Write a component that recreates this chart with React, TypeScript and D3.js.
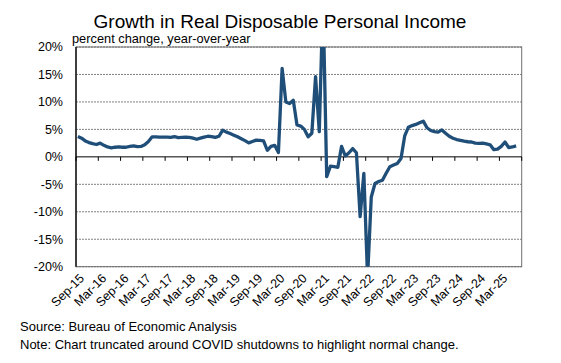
import * as d3 from "d3";

// monthly year-over-year % change in real disposable personal income, Sep-15 onward
const yoy = [
  3.7, 3.4, 2.9, 2.6, 2.4, 2.25, 2.5, 2.1, 1.8, 1.65, 1.75, 1.8,
  1.75, 1.75, 1.9, 2.0, 1.85, 1.9, 2.2, 2.8, 3.65, 3.65, 3.6, 3.6,
  3.6, 3.55, 3.7, 3.5, 3.55, 3.6, 3.55, 3.4, 3.2, 3.4, 3.6, 3.75,
  3.7, 3.55, 3.75, 4.85, 4.5, 4.25, 3.95, 3.65, 3.3, 2.95, 2.55, 2.8,
  3.05, 3.0, 2.9, 1.2, 1.9, 2.1, 0.8, 16.1, 10.0, 9.7, 10.3, 5.8,
  5.6, 5.0, 3.65, 4.3, 14.6, 4.6, 29.0, -3.6, -1.7, -1.8, -1.9, 1.9,
  0.15, 0.75, 1.5, 0.75, -10.9, -3.0, -22.0, -7.3, -4.85, -4.5, -4.25, -3.0,
  -1.8, -1.5, -1.2, -0.3, 3.8, 5.4, 5.7, 5.9, 6.2, 6.5, 5.3, 4.8,
  4.6, 4.5, 4.9, 4.3, 3.75, 3.4, 3.15, 3.0, 2.85, 2.75, 2.7, 2.5,
  2.45, 2.5, 2.35, 2.2, 1.3, 1.4, 1.9, 2.7, 1.7, 1.8, 2.0,
];

const tickLabels = [
  "Sep-15", "Mar-16", "Sep-16", "Mar-17", "Sep-17", "Mar-18", "Sep-18",
  "Mar-19", "Sep-19", "Mar-20", "Sep-20", "Mar-21", "Sep-21", "Mar-22",
  "Sep-22", "Mar-23", "Sep-23", "Mar-24", "Sep-24", "Mar-25",
];

const yTicks = [20, 15, 10, 5, 0, -5, -10, -15, -20];

const nMonths = 120; // slots on the category axis
const font = "'Liberation Sans', Arial, sans-serif";

export default function App() {
  const left = 76,
    right = 521.7,
    top = 47,
    bottom = 266.7;

  const x = d3.scaleLinear().domain([0, nMonths]).range([left, right]);
  const y = d3.scaleLinear().domain([-20, 20]).range([bottom, top]);

  const line = d3
    .line<number>()
    .x((d, i) => x(i + 0.5))
    .y((d) => y(d));

  const tickIdx = d3.range(0, nMonths + 1, 6);

  return (
    <svg
      width={561}
      height={363}
      style={{ position: "absolute", left: 0, top: 0, background: "#fff" }}
      fontFamily={font}
    >
      <defs>
        <clipPath id="plot">
          <rect x={left} y={top} width={right - left} height={bottom - top} />
        </clipPath>
      </defs>

      <text x={280} y={28} textAnchor="middle" fontSize={19} fill="#000">
        Growth in Real Disposable Personal Income
      </text>
      <text x={72} y={43} fontSize={12.8} fill="#000">
        percent change, year-over-year
      </text>

      {/* gridlines */}
      {yTicks
        .filter((t) => t !== 0)
        .map((t) => (
          <line
            key={t}
            x1={left}
            x2={right}
            y1={y(t)}
            y2={y(t)}
            stroke="#808080"
            strokeWidth={1}
            strokeDasharray="2,1"
          />
        ))}

      {yTicks.map((t) => (
        <text
          key={"l" + t}
          x={63}
          y={y(t)}
          dy="0.35em"
          textAnchor="end"
          fontSize={12.5}
          fill="#000"
        >
          {t + "%"}
        </text>
      ))}

      <rect
        x={left}
        y={top}
        width={right - left}
        height={bottom - top}
        fill="none"
        stroke="#6f6f6f"
        strokeWidth={1}
      />

      {/* zero axis with ticks */}
      <line x1={left} x2={right} y1={y(0)} y2={y(0)} stroke="#000" strokeWidth={1} />
      {tickIdx.map((k) => (
        <line key={"t" + k} x1={x(k)} x2={x(k)} y1={y(0)} y2={y(0) + 4} stroke="#000" strokeWidth={1} />
      ))}
      <line x1={left} x2={left} y1={top} y2={bottom} stroke="#000" strokeWidth={1.3} />

      <path
        d={line(yoy) ?? ""}
        fill="none"
        stroke="#1F4E79"
        strokeWidth={3.3}
        strokeLinejoin="round"
        clipPath="url(#plot)"
      />

      {tickLabels.map((lab, k) => (
        <text
          key={lab}
          transform={`translate(${x(k * 6 + 0.5) + 7},279) rotate(-45)`}
          textAnchor="end"
          fontSize={12.5}
          fill="#000"
        >
          {lab}
        </text>
      ))}

      <text x={20} y={331} fontSize={13} fill="#000">
        Source: Bureau of Economic Analysis
      </text>
      <text x={20} y={349} fontSize={13} fill="#000">
        Note: Chart truncated around COVID shutdowns to highlight normal change.
      </text>
    </svg>
  );
}
